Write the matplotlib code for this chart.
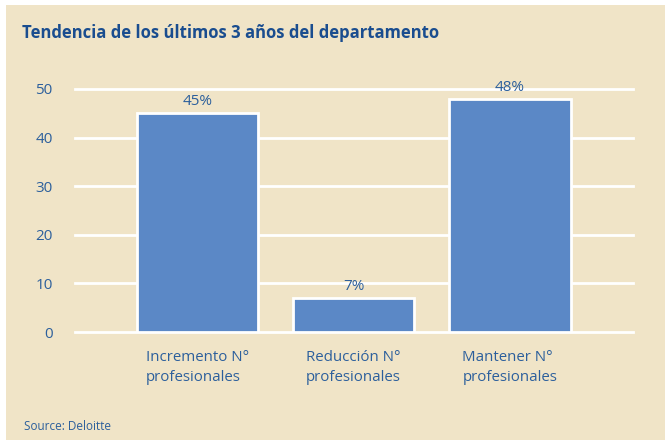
import matplotlib
matplotlib.use("Agg")
import matplotlib.pyplot as plt
from matplotlib.patches import Rectangle

categories = ["Incremento N°\nprofesionales", "Reducción N°\nprofesionales", "Mantener N°\nprofesionales"]
values = [45, 7, 48]
value_labels = ["45%", "7%", "48%"]
yticks = [0, 10, 20, 30, 40, 50]

plt.rcParams['font.family'] = ['Open Sans', 'DejaVu Sans']

BG = "#f0e4c7"
BAR = "#5b88c6"
TXT = "#2c5f9c"
TITLE = "#1a4d8f"

fig = plt.figure(figsize=(6.65, 4.45), dpi=100)
fig.patch.set_facecolor("white")
fig.patches.append(Rectangle((6/665, 5/445), 659/665, (440-5)/445,
                             transform=fig.transFigure, facecolor=BG, edgecolor="none", zorder=-5))

ax = fig.add_axes([75/665, (445-332)/445, (633-75)/665, (332-89)/445])
ax.set_zorder(2)
ax.set_facecolor("none")
x = list(range(len(values)))
bars = ax.bar(x, values, width=0.78, color=BAR, edgecolor="white", linewidth=2, zorder=3)
ax.set_xlim(-0.785, 2.79)
ax.set_ylim(0, 50)
ax.set_yticks(yticks)
ax.set_yticklabels([str(t) for t in yticks])
for v in yticks:
    ax.axhline(v, color="white", linewidth=2, zorder=1, clip_on=False)
for s in ax.spines.values():
    s.set_visible(False)
ax.tick_params(axis="y", length=0, pad=16, labelsize=11, labelcolor=TXT)
ax.tick_params(axis="x", length=0, pad=13, labelsize=10.8, labelcolor=TXT)
ax.set_xticks(x)
ax.set_xticklabels(categories, multialignment="left", linespacing=1.45)
for xi, v, lab in zip(x, values, value_labels):
    ax.annotate(lab, (xi, v), xytext=(0, 3), textcoords="offset points",
                ha="center", va="bottom", fontsize=11, color=TXT, annotation_clip=False)

fig.text(22/665, 1 - 33/445, "Tendencia de los últimos 3 años del departamento",
         fontsize=12, fontweight="bold", color=TITLE, ha="left", va="center")
fig.text(24/665, 1 - 426/445, "Source: Deloitte", fontsize=8.5, color=TXT, ha="left", va="center")

fig.savefig("out.png", dpi=100, facecolor=fig.get_facecolor())
